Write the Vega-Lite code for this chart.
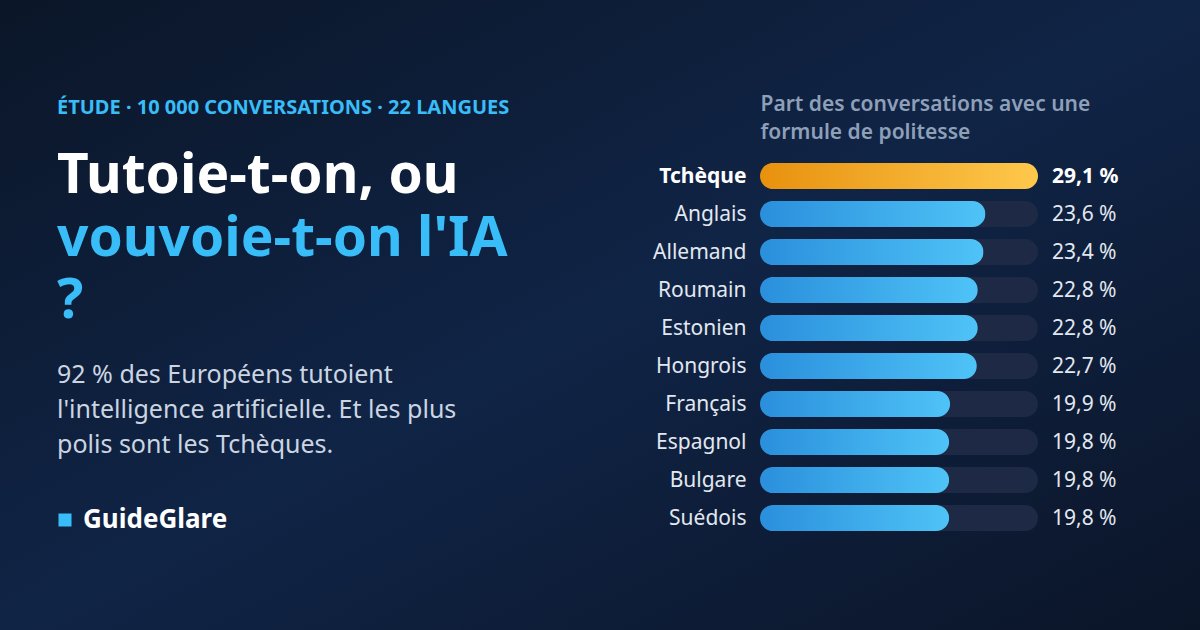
{
  "$schema": "https://vega.github.io/schema/vega-lite/v6.json",
  "width": 1200,
  "height": 630,
  "autosize": {"type": "none"},
  "padding": 0,
  "background": "#0e1c36",
  "view": {
    "stroke": null,
    "fill": {
      "gradient": "linear", "x1": 0, "y1": 0, "x2": 1, "y2": 1,
      "stops": [
        {"offset": 0, "color": "#0b1628"},
        {"offset": 0.5, "color": "#102446"},
        {"offset": 1, "color": "#0b1528"}
      ]
    }
  },
  "config": {
    "font": "Noto Sans",
    "locale": {
      "number": {"decimal": ",", "thousands": "\u00a0", "grouping": [3], "currency": ["", "\u00a0€"], "percent": "\u00a0%"}
    }
  },
  "title": {
    "text": "Tutoie-t-on, ou",
    "subtitle": ["vouvoie-t-on l'IA", "?"],
    "orient": "bottom",
    "anchor": "start",
    "frame": "group",
    "offset": -480,
    "dx": 57,
    "baseline": "top",
    "font": "Noto Sans",
    "fontSize": 55,
    "fontWeight": "bold",
    "color": "#ffffff",
    "lineHeight": 62,
    "subtitleFont": "Noto Sans",
    "subtitleFontSize": 55,
    "subtitleFontWeight": "bold",
    "subtitleColor": "#38bdf8",
    "subtitleLineHeight": 62,
    "subtitlePadding": 8
  },
  "data": {
    "values": [
      {"langue": "Tchèque", "part": 0.291},
      {"langue": "Anglais", "part": 0.236},
      {"langue": "Allemand", "part": 0.234},
      {"langue": "Roumain", "part": 0.228},
      {"langue": "Estonien", "part": 0.228},
      {"langue": "Hongrois", "part": 0.227},
      {"langue": "Français", "part": 0.199},
      {"langue": "Espagnol", "part": 0.198},
      {"langue": "Bulgare", "part": 0.198},
      {"langue": "Suédois", "part": 0.198}
    ]
  },
  "encoding": {
    "y": {
      "field": "langue",
      "type": "nominal",
      "sort": null,
      "scale": {
        "domain": ["Tchèque", "Anglais", "Allemand", "Roumain", "Estonien", "Hongrois", "Français", "Espagnol", "Bulgare", "Suédois"],
        "range": [157, 537],
        "paddingInner": 0.3158,
        "paddingOuter": 0.158
      },
      "axis": {
        "orient": "left",
        "offset": -760,
        "domain": false,
        "ticks": false,
        "tickSize": 0,
        "grid": false,
        "labelPadding": 14,
        "labelOffset": 1,
        "labelFont": "Noto Sans",
        "labelFontSize": 21,
        "labelLimit": 300,
        "labelColor": {"condition": {"test": "datum.value === 'Tchèque'", "value": "#ffffff"}, "value": "#e2e8f0"},
        "labelFontWeight": {"condition": {"test": "datum.value === 'Tchèque'", "value": "bold"}, "value": "normal"},
        "title": ["Part des conversations avec une", "formule de politesse"],
        "titleAngle": 0,
        "titleX": 0,
        "titleY": 93,
        "titleAlign": "left",
        "titleBaseline": "top",
        "titleFont": "Noto Sans",
        "titleFontSize": 21,
        "titleFontWeight": 600,
        "titleColor": "#8e9fb8",
        "titleLineHeight": 28,
        "titleLimit": 700
      }
    }
  },
  "layer": [
    {
      "mark": {"type": "bar", "color": "#1e2a45", "cornerRadius": 13},
      "encoding": {
        "x": {
          "datum": 0.291,
          "type": "quantitative",
          "scale": {"domain": [0, 0.291], "range": [760, 1038], "nice": false, "zero": true},
          "axis": null
        }
      }
    },
    {
      "transform": [{"filter": "datum.langue !== 'Tchèque'"}],
      "mark": {
        "type": "bar",
        "cornerRadius": 13,
        "fill": {
          "gradient": "linear", "x1": 0, "y1": 0, "x2": 1, "y2": 0,
          "stops": [{"offset": 0, "color": "#2a8fdc"}, {"offset": 1, "color": "#4fc3f7"}]
        }
      },
      "encoding": {
        "x": {"field": "part", "type": "quantitative", "scale": {"domain": [0, 0.291], "range": [760, 1038], "nice": false, "zero": true}, "axis": null}
      }
    },
    {
      "transform": [{"filter": "datum.langue === 'Tchèque'"}],
      "mark": {
        "type": "bar",
        "cornerRadius": 13,
        "fill": {
          "gradient": "linear", "x1": 0, "y1": 0, "x2": 1, "y2": 0,
          "stops": [{"offset": 0, "color": "#e8910e"}, {"offset": 1, "color": "#fec84c"}]
        }
      },
      "encoding": {
        "x": {"field": "part", "type": "quantitative", "scale": {"domain": [0, 0.291], "range": [760, 1038], "nice": false, "zero": true}, "axis": null}
      }
    },
    {
      "transform": [{"filter": "datum.langue !== 'Tchèque'"}],
      "mark": {"type": "text", "align": "left", "baseline": "middle", "dx": 14, "dy": 1, "font": "Noto Sans", "fontSize": 21, "color": "#e2e8f0"},
      "encoding": {
        "x": {"datum": 0.291, "type": "quantitative", "scale": {"domain": [0, 0.291], "range": [760, 1038], "nice": false, "zero": true}, "axis": null},
        "text": {"field": "part", "type": "quantitative", "format": ".1%"}
      }
    },
    {
      "transform": [{"filter": "datum.langue === 'Tchèque'"}],
      "mark": {"type": "text", "align": "left", "baseline": "middle", "dx": 14, "dy": 1, "font": "Noto Sans", "fontSize": 21, "fontWeight": "bold", "color": "#ffffff"},
      "encoding": {
        "x": {"datum": 0.291, "type": "quantitative", "scale": {"domain": [0, 0.291], "range": [760, 1038], "nice": false, "zero": true}, "axis": null},
        "text": {"field": "part", "type": "quantitative", "format": ".1%"}
      }
    },
    {
      "data": {"values": []},
      "mark": {"type": "point", "filled": true, "opacity": 1},
      "encoding": {
        "color": {
          "field": "marque",
          "type": "nominal",
          "scale": {"domain": ["GuideGlare"], "range": ["#38bdf8"]},
          "legend": {
            "orient": "none",
            "legendX": 57,
            "legendY": 363,
            "padding": 0,
            "offset": 0,
            "title": ["92 % des Européens tutoient", "l'intelligence artificielle. Et les plus", "polis sont les Tchèques."],
            "titleFont": "Noto Sans",
            "titleFontSize": 25,
            "titleFontWeight": "normal",
            "titleColor": "#cbd5e1",
            "titleLineHeight": 35,
            "titleBaseline": "top",
            "titleLimit": 1000,
            "titlePadding": 49,
            "symbolType": "square",
            "symbolSize": 169,
            "symbolOffset": -5,
            "symbolStrokeWidth": 0,
            "symbolOpacity": 1,
            "labelFont": "Noto Sans",
            "labelFontSize": 26,
            "labelFontWeight": "bold",
            "labelColor": "#ffffff",
            "labelLimit": 500,
            "labelOffset": 5
          }
        },
        "shape": {
          "field": "etude",
          "type": "nominal",
          "scale": {"domain": ["etude"], "range": ["circle"]},
          "legend": {
            "orient": "none",
            "legendX": 57,
            "legendY": 98,
            "padding": 0,
            "offset": 0,
            "title": "ÉTUDE · 10 000 CONVERSATIONS · 22 LANGUES",
            "titleFont": "Noto Sans",
            "titleFontSize": 20,
            "titleFontWeight": "bold",
            "titleColor": "#38bdf8",
            "titleBaseline": "top",
            "titleLimit": 1200,
            "titlePadding": 0,
            "labelExpr": "''",
            "symbolSize": 0,
            "symbolOpacity": 0,
            "symbolStrokeWidth": 0
          }
        }
      }
    }
  ]
}
